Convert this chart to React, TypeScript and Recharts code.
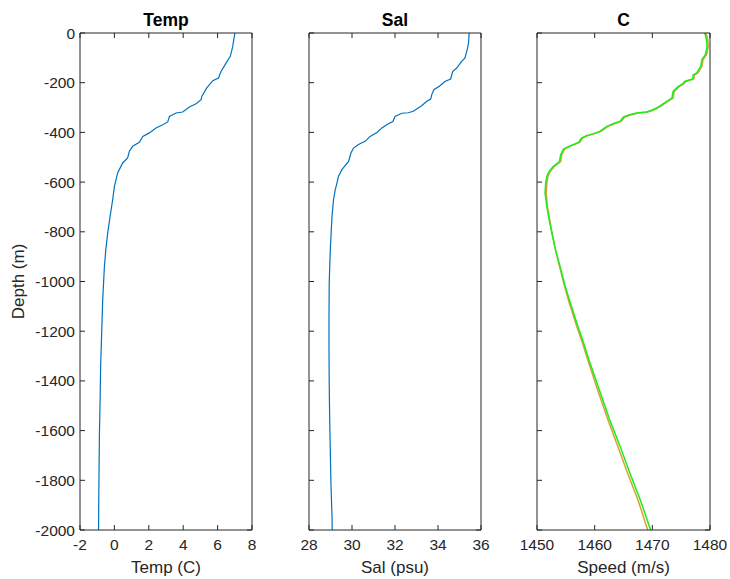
import { LineChart, Line, XAxis, YAxis } from "recharts";

// depth profiles
const depthTicks = [-2000, -1800, -1600, -1400, -1200, -1000, -800, -600, -400, -200, 0];

const tempDepth = [0, -54, -94, -114, -155, -181, -192, -221, -255, -268, -285, -298, -318, -322, -336, -358, -369, -382, -402, -416, -440, -456, -476, -503, -523, -563, -617, -671, -738, -805, -872, -939, -1073, -1207, -1341, -1475, -1609, -1744, -1878, -2000];
const tempVals = [7.0, 6.88, 6.74, 6.55, 6.2, 6.05, 5.72, 5.37, 5.08, 5.04, 4.75, 4.36, 3.97, 3.59, 3.2, 3.1, 2.81, 2.42, 2.03, 1.65, 1.45, 1.06, 0.87, 0.77, 0.48, 0.19, 0.0, -0.1, -0.25, -0.39, -0.5, -0.58, -0.68, -0.74, -0.8, -0.83, -0.87, -0.89, -0.91, -0.92];
const tempTicks = [-2, 0, 2, 4, 6, 8];

const salDepth = [0, -40, -67, -101, -114, -141, -155, -185, -195, -212, -228, -248, -266, -275, -293, -315, -321, -323, -336, -356, -365, -382, -400, -416, -436, -449, -463, -483, -517, -550, -577, -604, -631, -671, -738, -872, -1006, -1140, -1274, -1408, -1543, -1677, -1811, -1945, -2000];
const salVals = [35.45, 35.42, 35.36, 35.25, 35.1, 34.87, 34.68, 34.59, 34.32, 34.09, 33.81, 33.71, 33.66, 33.48, 33.24, 32.85, 32.62, 32.32, 32.0, 31.9, 31.69, 31.39, 31.16, 30.84, 30.61, 30.3, 30.07, 29.95, 29.84, 29.53, 29.37, 29.3, 29.22, 29.14, 29.07, 28.99, 28.94, 28.93, 28.93, 28.94, 28.96, 28.99, 29.02, 29.07, 29.08];
const salTicks = [28, 30, 32, 34, 36];

const speedDepth = [0, -27, -54, -87, -107, -134, -161, -168, -185, -195, -204, -215, -235, -262, -275, -289, -298, -311, -318, -322, -329, -338, -356, -365, -376, -396, -405, -413, -423, -440, -454, -467, -490, -517, -537, -557, -577, -604, -644, -698, -751, -805, -872, -939, -1020, -1087, -1167, -1234, -1315, -1436, -1556, -1663, -1771, -1878, -2000];
const speedA = [1479.3, 1479.6, 1479.7, 1479.4, 1478.8, 1478.6, 1477.9, 1477.3, 1477.2, 1475.8, 1475.5, 1474.7, 1473.8, 1473.6, 1472.7, 1471.8, 1471.2, 1470.1, 1469.2, 1467.5, 1466.3, 1465.2, 1464.6, 1463.4, 1462.3, 1461.1, 1460.0, 1458.8, 1457.9, 1457.4, 1455.9, 1454.8, 1454.3, 1454.1, 1453.0, 1452.3, 1451.9, 1451.7, 1451.6, 1451.8, 1452.2, 1452.6, 1453.2, 1453.9, 1454.8, 1455.6, 1456.7, 1457.7, 1458.8, 1460.5, 1462.3, 1464.0, 1465.7, 1467.5, 1469.2];
const speedB = [1479.1, 1479.4, 1479.5, 1479.2, 1478.6, 1478.4, 1477.7, 1477.1, 1477.0, 1475.6, 1475.3, 1474.5, 1473.6, 1473.4, 1472.5, 1471.6, 1471.0, 1469.9, 1469.0, 1467.3, 1466.1, 1465.0, 1464.4, 1463.2, 1462.1, 1460.9, 1459.8, 1458.6, 1457.7, 1457.2, 1455.7, 1454.6, 1454.1, 1453.9, 1452.8, 1452.1, 1451.7, 1451.5, 1451.4, 1451.7, 1452.1, 1452.6, 1453.2, 1454.0, 1454.9, 1455.8, 1456.9, 1457.9, 1459.0, 1460.8, 1462.6, 1464.4, 1466.1, 1467.9, 1469.7];
const speedTicks = [1450, 1460, 1470, 1480];

const AX = "#262626";
const FONT = "'Liberation Sans', Arial, sans-serif";
const tickStyle = { fontSize: 15.5, fill: AX, fontFamily: FONT };
const blank = () => "";

interface Series {
  key: string;
  color: string;
  width: number;
}

interface Props {
  left: number;
  plotW: number;
  data: Record<string, number>[];
  domain: [number, number];
  ticks: number[];
  title: string;
  xLabel: string;
  series: Series[];
  yLabels?: boolean;
}

function Profile({ left, plotW, data, domain, ticks, title, xLabel, series, yLabels }: Props) {
  return (
    <div style={{ position: "absolute", left, top: 0 }}>
      <LineChart
        width={80 + plotW + 20}
        height={579}
        data={data}
        layout="vertical"
        margin={{ top: 32, right: 19, bottom: 0, left: 0 }}
      >
        <XAxis
          xAxisId="b"
          type="number"
          domain={domain}
          ticks={ticks}
          interval={0}
          allowDataOverflow
          height={49}
          stroke={AX}
          tickSize={-5}
          tickMargin={14}
          tick={tickStyle}
          label={{ value: xLabel, position: "insideBottom", offset: 6, fill: AX, fontSize: 17, fontFamily: FONT }}
        />
        <XAxis
          xAxisId="t"
          orientation="top"
          type="number"
          domain={domain}
          ticks={ticks}
          interval={0}
          allowDataOverflow
          height={1}
          stroke={AX}
          tickSize={-5}
          tickFormatter={blank}
          label={{ value: title, position: "top", offset: 6, fill: "#000", fontSize: 17.5, fontWeight: "bold", fontFamily: FONT }}
        />
        <YAxis
          yAxisId="l"
          dataKey="d"
          type="number"
          reversed
          domain={[-2000, 0]}
          ticks={depthTicks}
          interval={0}
          width={80}
          stroke={AX}
          tickSize={-5}
          tickMargin={10}
          tick={tickStyle}
          tickFormatter={yLabels ? undefined : blank}
          label={
            yLabels
              ? { value: "Depth (m)", angle: -90, position: "insideLeft", offset: 18, fill: AX, fontSize: 17, fontFamily: FONT, style: { textAnchor: "middle" } }
              : undefined
          }
        />
        <YAxis
          yAxisId="r"
          orientation="right"
          type="number"
          reversed
          domain={[-2000, 0]}
          ticks={depthTicks}
          interval={0}
          width={1}
          stroke={AX}
          tickSize={-5}
          tickFormatter={blank}
        />
        {series.map((s) => (
          <Line
            key={s.key}
            xAxisId="b"
            yAxisId="l"
            dataKey={s.key}
            stroke={s.color}
            strokeWidth={s.width}
            dot={false}
            isAnimationActive={false}
          />
        ))}
      </LineChart>
    </div>
  );
}

export default function App() {
  const tempData = tempDepth.map((d, i) => ({ d, v: tempVals[i] }));
  const salData = salDepth.map((d, i) => ({ d, v: salVals[i] }));
  const speedData = speedDepth.map((d, i) => ({ d, a: speedA[i], b: speedB[i] }));

  return (
    <div style={{ position: "absolute", left: 0, top: 0, width: 730, height: 579, background: "#fff", fontFamily: FONT }}>
      <Profile
        left={0}
        plotW={172}
        data={tempData}
        domain={[-2, 8]}
        ticks={tempTicks}
        title="Temp"
        xLabel="Temp (C)"
        series={[{ key: "v", color: "#0072BD", width: 1.2 }]}
        yLabels
      />
      <Profile
        left={229}
        plotW={172}
        data={salData}
        domain={[28, 36]}
        ticks={salTicks}
        title="Sal"
        xLabel="Sal (psu)"
        series={[{ key: "v", color: "#0072BD", width: 1.2 }]}
      />
      <Profile
        left={457}
        plotW={173}
        data={speedData}
        domain={[1450, 1480]}
        ticks={speedTicks}
        title="C"
        xLabel="Speed (m/s)"
        series={[
          { key: "a", color: "#D9A03A", width: 1.5 },
          { key: "b", color: "#18F018", width: 1.5 },
        ]}
      />
    </div>
  );
}
